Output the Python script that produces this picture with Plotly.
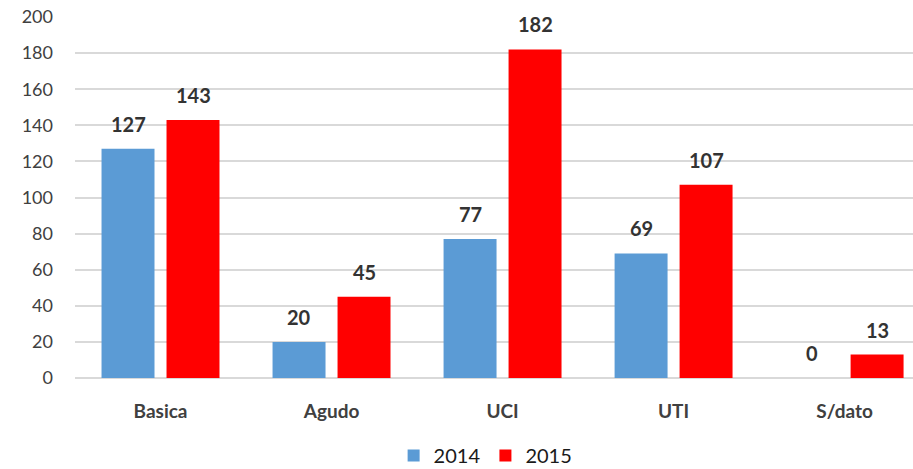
import plotly.graph_objects as go

categories = ["Basica", "Agudo", "UCI", "UTI", "S/dato"]
values_2014 = [127, 20, 77, 69, 0]
values_2015 = [143, 45, 182, 107, 13]
y_ticks = list(range(0, 201, 20))

BLUE = "#5b9bd5"
RED = "#ff0000"
FONT = "Lato, 'Open Sans', sans-serif"

fig = go.Figure()
fig.add_trace(go.Bar(name="2014", x=categories, y=values_2014,
                     marker=dict(color=BLUE, line=dict(width=0))))
fig.add_trace(go.Bar(name="2015", x=categories, y=values_2015,
                     marker=dict(color=RED, line=dict(width=0))))

# value labels above each bar, offset to the bar's slot within the group
slot_shift = 32.5
for vals, sh in ((values_2014, -slot_shift), (values_2015, slot_shift)):
    for c, v in zip(categories, vals):
        fig.add_annotation(x=c, y=v, text=f"<b>{v}</b>", showarrow=False,
                           xref="x", yref="y", yanchor="bottom", xshift=sh,
                           yshift=11, font=dict(family=FONT, size=20, color="#333333"))

fig.update_layout(
    width=913, height=469,
    margin=dict(l=75, r=0, t=17, b=91, autoexpand=False),
    paper_bgcolor="white", plot_bgcolor="white",
    barmode="group", bargap=0.24, bargroupgap=0.185,
    font=dict(family=FONT, color="#404040"),
    showlegend=True,
    legend=dict(orientation="h", x=0.49, xanchor="center", y=-0.215, yanchor="middle",
                font=dict(family=FONT, size=20, color="#1a1a1a"),
                itemwidth=30, traceorder="normal"),
    xaxis=dict(range=[-0.5, 4.4], showgrid=False, showline=False, ticks="",
               automargin=False, ticklabelstandoff=20,
               tickfont=dict(family=FONT, size=19, color="#404040", weight="bold")),
    yaxis=dict(range=[0, 200], tickvals=y_ticks, showgrid=True, gridcolor="#d9d9d9",
               gridwidth=1.5, zeroline=True, zerolinecolor="#d9d9d9", zerolinewidth=1.5,
               showline=False, ticks="", ticklabelstandoff=21, automargin=False,
               tickfont=dict(family=FONT, size=18, color="#404040")),
)

fig.write_html("out.html")
